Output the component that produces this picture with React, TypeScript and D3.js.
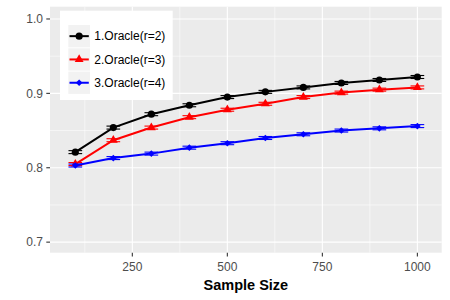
import React from "react";
import * as d3 from "d3";

// sample sizes on the x axis
const sizes = [100, 200, 300, 400, 500, 600, 700, 800, 900, 1000];
const seriesNames = ["1.Oracle(r=2)", "2.Oracle(r=3)", "3.Oracle(r=4)"];
const seriesColors = ["#000000", "#FF0000", "#0000FF"];
const seriesShapes = ["circle", "triangle", "diamond"];

// mean accuracy
const oracle2 = [0.821, 0.854, 0.872, 0.884, 0.895, 0.902, 0.908, 0.914, 0.918, 0.922];
const oracle3 = [0.805, 0.837, 0.854, 0.868, 0.878, 0.886, 0.895, 0.901, 0.905, 0.908];
const oracle4 = [0.803, 0.813, 0.819, 0.827, 0.833, 0.840, 0.845, 0.850, 0.853, 0.856];
// half width of the error bars (y units)
const err2 = [0.002, 0.002, 0.002, 0.002, 0.002, 0.002, 0.002, 0.002, 0.002, 0.002];
const err3 = [0.002, 0.002, 0.002, 0.002, 0.002, 0.002, 0.002, 0.002, 0.002, 0.002];
const err4 = [0.002, 0.002, 0.002, 0.002, 0.002, 0.002, 0.002, 0.002, 0.002, 0.002];

const xTicks = [250, 500, 750, 1000];
const xMinor = [125, 375, 625, 875];
const yTicks = [0.7, 0.8, 0.9, 1.0];
const yMinor = [0.75, 0.85, 0.95];

const W = 450;
const H = 300;
const panel = { left: 50, right: 441.7, top: 6.7, bottom: 252.7 };
const font = "'Liberation Sans', Arial, sans-serif";

const shapePath = (shape: string) => {
  if (shape === "circle") return d3.symbol(d3.symbolCircle, 40)()!;
  if (shape === "triangle") return d3.symbol(d3.symbolTriangle, 34)()!;
  return d3.symbol(d3.symbolSquare, 22)()!;
};

const App = () => {
  const x = d3.scaleLinear().domain([33.4, 1064]).range([panel.left, panel.right]);
  const y = d3.scaleLinear().domain([0.6858, 1.0165]).range([panel.bottom, panel.top]);

  const values = [oracle2, oracle3, oracle4];
  const errs = [err2, err3, err4];
  const line = d3
    .line<number>()
    .x((_, i) => x(sizes[i]))
    .y((d) => y(d));

  const errHalf = x(18) - x(0);

  return (
    <svg
      width={W}
      height={H}
      style={{ position: "absolute", left: 0, top: 0, background: "#fff" }}
      fontFamily={font}
    >
      {/* panel */}
      <rect
        x={panel.left}
        y={panel.top}
        width={panel.right - panel.left}
        height={panel.bottom - panel.top}
        fill="#EBEBEB"
      />
      {yMinor.map((t) => (
        <line key={"ym" + t} x1={panel.left} x2={panel.right} y1={y(t)} y2={y(t)} stroke="#fff" strokeWidth={0.55} />
      ))}
      {xMinor.map((t) => (
        <line key={"xm" + t} y1={panel.top} y2={panel.bottom} x1={x(t)} x2={x(t)} stroke="#fff" strokeWidth={0.55} />
      ))}
      {yTicks.map((t) => (
        <line key={"yg" + t} x1={panel.left} x2={panel.right} y1={y(t)} y2={y(t)} stroke="#fff" strokeWidth={1.1} />
      ))}
      {xTicks.map((t) => (
        <line key={"xg" + t} y1={panel.top} y2={panel.bottom} x1={x(t)} x2={x(t)} stroke="#fff" strokeWidth={1.1} />
      ))}

      {/* series */}
      {values.map((vals, s) => (
        <g key={"s" + s}>
          <path d={line(vals)!} fill="none" stroke={seriesColors[s]} strokeWidth={2} />
          {vals.map((v, i) => (
            <g key={i} stroke={seriesColors[s]} strokeWidth={1.1}>
              <line x1={x(sizes[i]) - errHalf} x2={x(sizes[i]) + errHalf} y1={y(v + errs[s][i])} y2={y(v + errs[s][i])} />
              <line x1={x(sizes[i]) - errHalf} x2={x(sizes[i]) + errHalf} y1={y(v - errs[s][i])} y2={y(v - errs[s][i])} />
              <line x1={x(sizes[i])} x2={x(sizes[i])} y1={y(v + errs[s][i])} y2={y(v - errs[s][i])} />
            </g>
          ))}
          {vals.map((v, i) => (
            <path
              key={"p" + i}
              d={shapePath(seriesShapes[s])}
              transform={`translate(${x(sizes[i])},${y(v)})${seriesShapes[s] === "diamond" ? " rotate(45)" : ""}`}
              fill={seriesColors[s]}
            />
          ))}
        </g>
      ))}

      {/* y axis */}
      {yTicks.map((t) => (
        <g key={"yt" + t}>
          <line x1={panel.left - 3.7} x2={panel.left} y1={y(t)} y2={y(t)} stroke="#333" strokeWidth={1.1} />
          <text x={panel.left - 7} y={y(t)} dy="0.36em" textAnchor="end" fontSize={12} fill="#4D4D4D">
            {t.toFixed(1)}
          </text>
        </g>
      ))}
      {/* x axis */}
      {xTicks.map((t) => (
        <g key={"xt" + t}>
          <line x1={x(t)} x2={x(t)} y1={panel.bottom} y2={panel.bottom + 3.7} stroke="#333" strokeWidth={1.1} />
          <text x={x(t)} y={270.7} textAnchor="middle" fontSize={12} fill="#4D4D4D">
            {t}
          </text>
        </g>
      ))}
      <text
        x={(panel.left + panel.right) / 2}
        y={290}
        textAnchor="middle"
        fontSize={14.5}
        fontWeight="bold"
        fill="#000"
      >
        Sample Size
      </text>

      {/* legend */}
      <rect x={60} y={10.7} width={112.7} height={89.3} fill="#fff" />
      {seriesNames.map((name, s) => {
        const ky = 25 + s * 23.3;
        return (
          <g key={"l" + s}>
            <rect x={68.3} y={ky} width={21.7} height={22.3} fill="#F2F2F2" />
            <line x1={69.5} x2={88.8} y1={ky + 11.15} y2={ky + 11.15} stroke={seriesColors[s]} strokeWidth={2} />
            <path
              d={shapePath(seriesShapes[s])}
              transform={`translate(79.15,${ky + 11.15})${seriesShapes[s] === "diamond" ? " rotate(45)" : ""}`}
              fill={seriesColors[s]}
            />
            <text x={94.3} y={ky + 11.15} dy="0.36em" fontSize={12} fill="#000">
              {name}
            </text>
          </g>
        );
      })}
    </svg>
  );
};

export default App;
